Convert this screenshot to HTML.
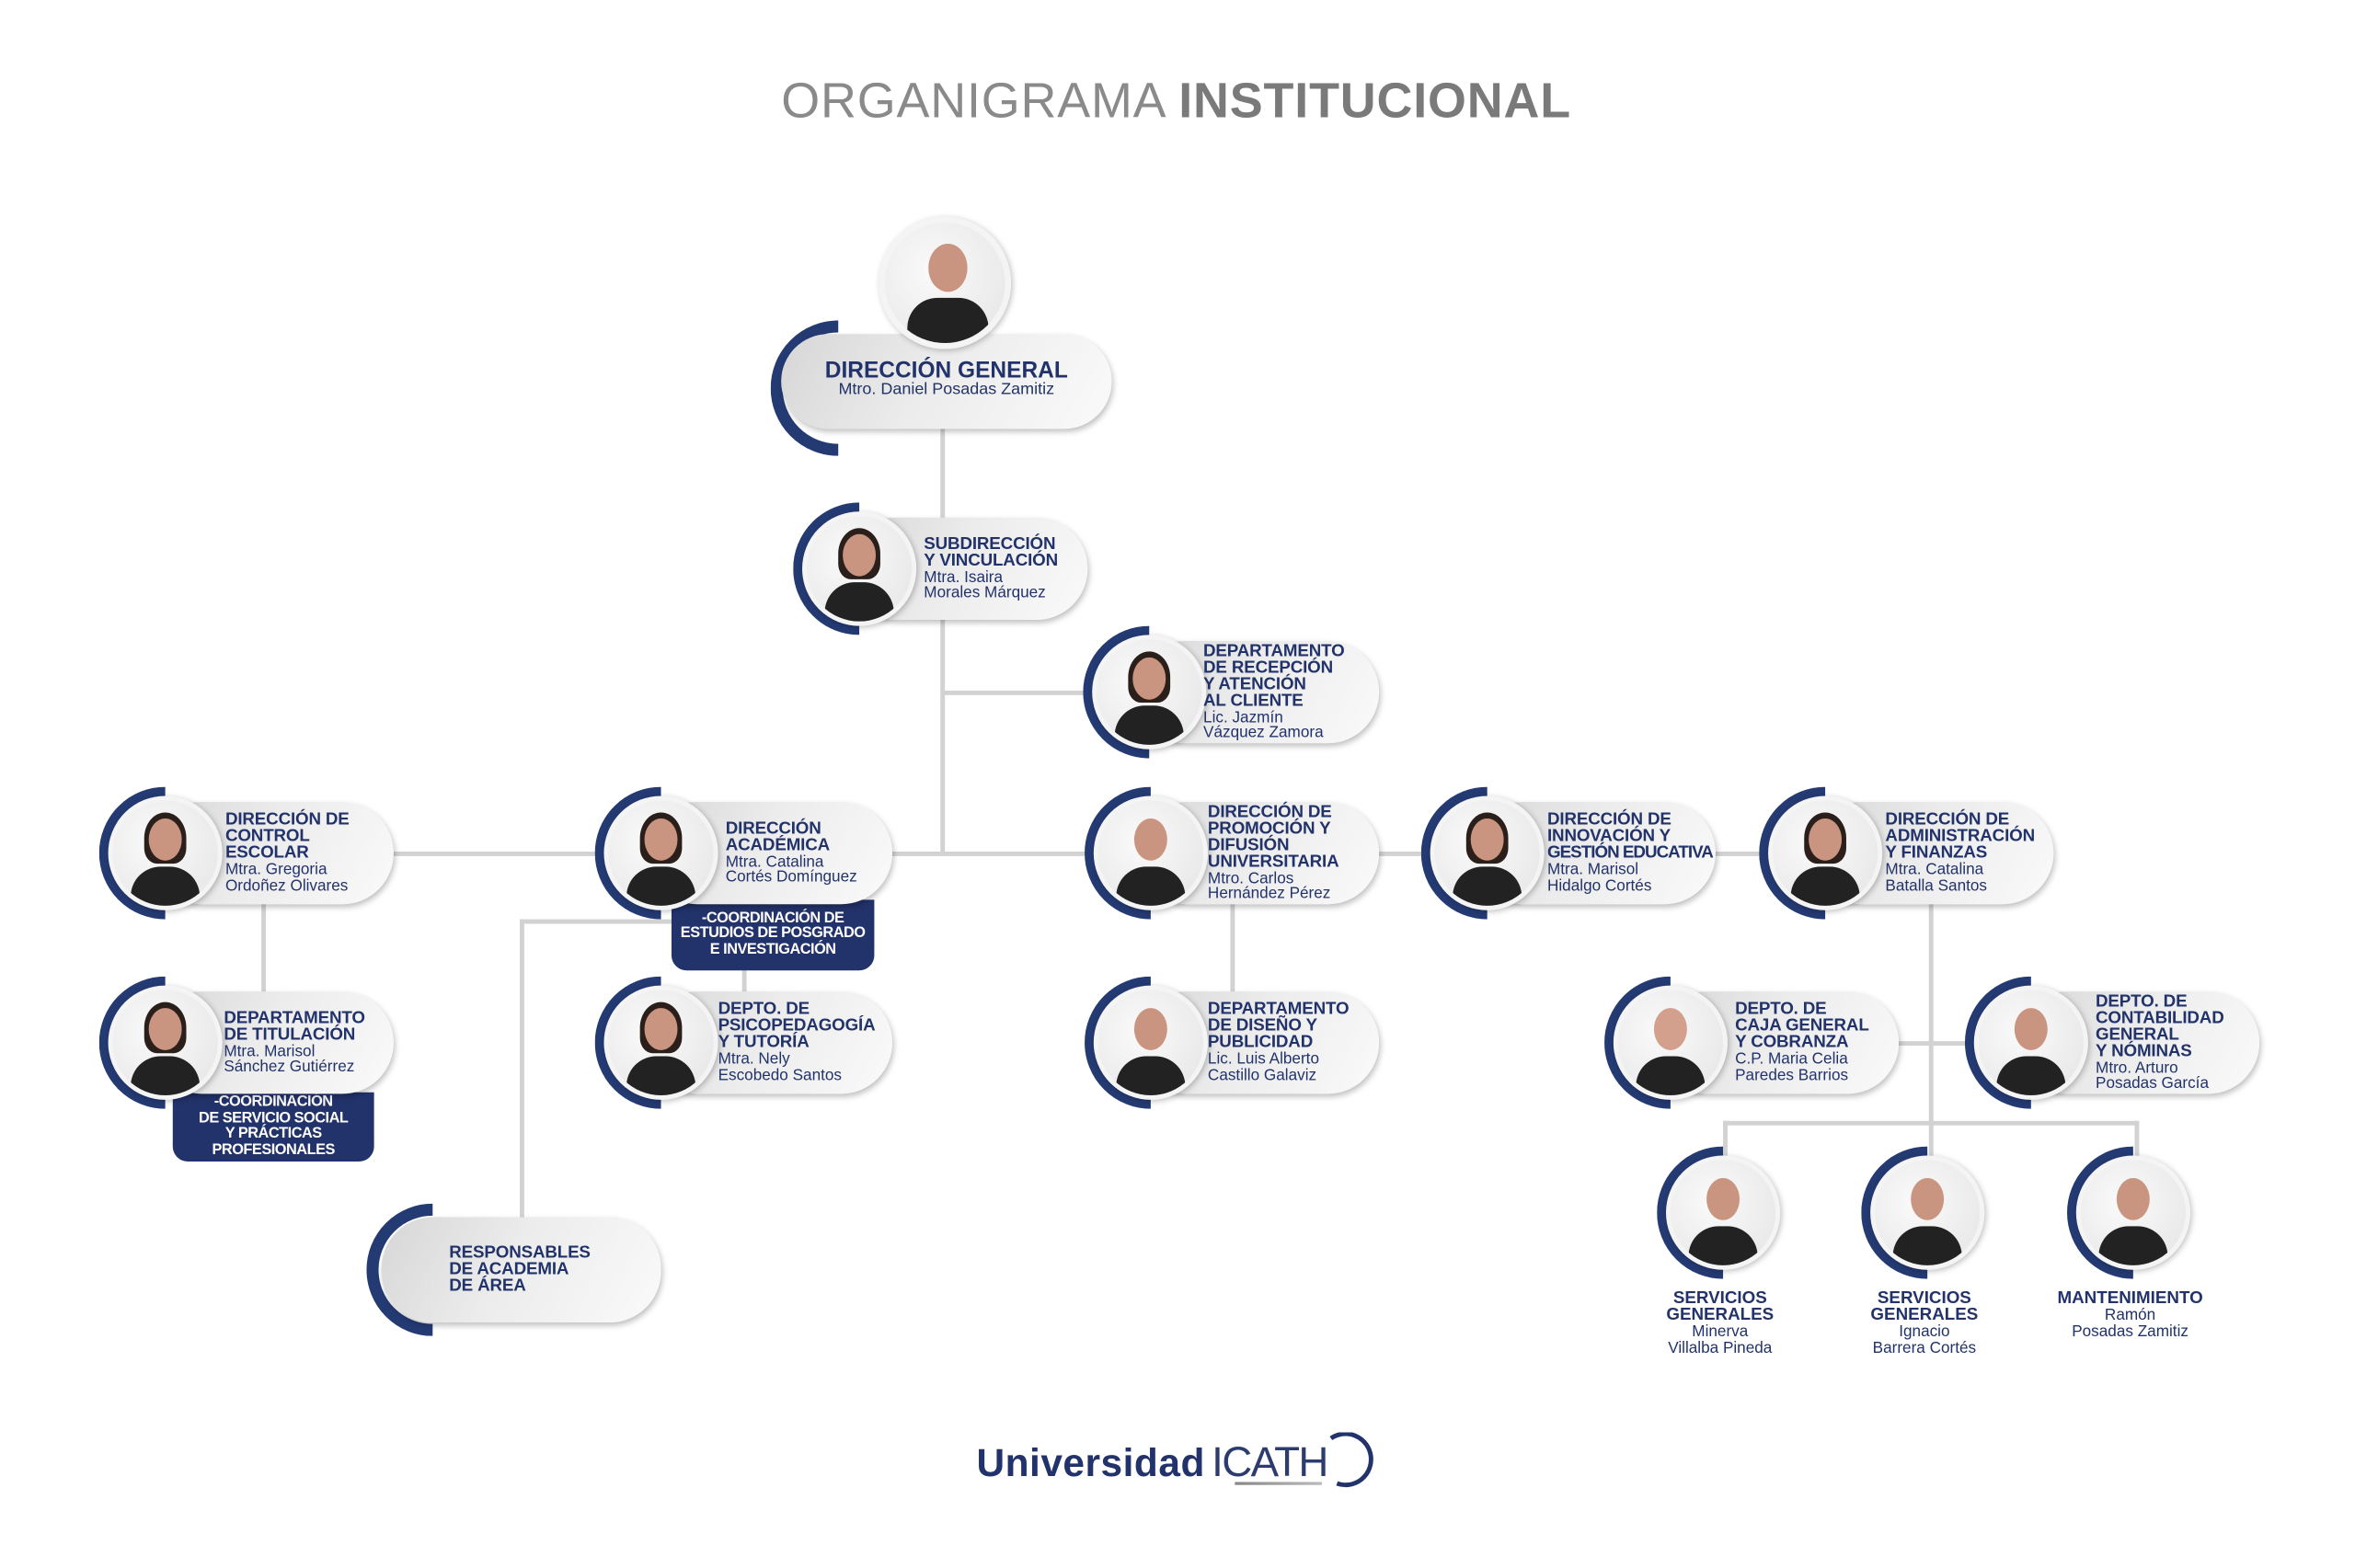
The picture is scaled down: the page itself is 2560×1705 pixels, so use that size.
<!DOCTYPE html>
<html><head><meta charset="utf-8">
<style>
html,body{margin:0;padding:0;background:#fff;}
body{width:2560px;height:1704px;overflow:hidden;position:relative;}
#s{position:absolute;left:0;top:0;width:1570px;height:1042px;transform:scale(1.633,1.636);transform-origin:0 0;font-family:"Liberation Sans",sans-serif;color:#22336b;}
.ln{position:absolute;background:#d2d2d2;}
.n{position:absolute;width:0;height:0;}
.arc{position:absolute;left:-44px;top:-44px;width:72px;height:72px;border:8px solid #243a73;border-radius:50%;clip-path:inset(0 50% 0 0);box-sizing:content-box;}
.pill{position:absolute;left:-10px;top:-34px;height:68px;border-radius:34px;background:linear-gradient(120deg,#d6d6d6 0%,#ececec 45%,#fafafa 100%);box-shadow:1px 2px 4px rgba(0,0,0,.25);}
.ph{position:absolute;left:-38px;top:-38px;width:70px;height:70px;border-radius:50%;border:3px solid #f4f4f4;background:radial-gradient(circle at 40% 40%,#fafafa,#e4e4e4);overflow:hidden;box-shadow:1px 1px 4px rgba(0,0,0,.25);}
.ph .b{position:absolute;left:12px;top:44px;width:46px;height:40px;border-radius:20px 20px 4px 4px;background:#222;}
.ph .h{position:absolute;left:24px;top:12px;width:22px;height:28px;border-radius:50%;background:#c99580;}
.ph .hr{position:absolute;left:21px;top:8px;width:28px;height:34px;border-radius:50% 50% 30% 30%;background:#2a1f1a;}
.t{position:absolute;top:-34px;height:68px;display:flex;flex-direction:column;justify-content:center;white-space:nowrap;}
.t b{font-size:11.5px;line-height:11px;font-weight:bold;letter-spacing:-.1px;}
.t span{font-size:10.5px;line-height:10.5px;}
.box{position:absolute;background:#22336b;color:#fff;font-weight:bold;font-size:10px;line-height:10.5px;text-align:center;border-radius:0 0 10px 10px;display:flex;flex-direction:column;justify-content:center;letter-spacing:-.3px;}
.lab{position:absolute;text-align:center;white-space:nowrap;transform:translateX(-50%);}
.lab b{display:block;font-size:11.5px;line-height:11px;}
.lab span{display:block;font-size:10.5px;line-height:10.5px;}
</style></head><body><div id="s">

<div style="position:absolute;left:0;width:1566px;top:48px;text-align:center;font-size:33px;color:#8a8a8a;letter-spacing:.5px;">ORGANIGRAMA <b style="color:#7a7a7a">INSTITUCIONAL</b></div>

<!-- lines -->
<div class="ln" style="left:626px;top:285px;width:2.5px;height:283px"></div>
<div class="ln" style="left:627px;top:459px;width:140px;height:2.5px"></div>
<div class="ln" style="left:260px;top:566px;width:960px;height:2.5px"></div>
<div class="ln" style="left:174px;top:600px;width:2.5px;height:62px"></div>
<div class="ln" style="left:346px;top:611px;width:102px;height:2.5px"></div>
<div class="ln" style="left:346px;top:611px;width:2.5px;height:198px"></div>
<div class="ln" style="left:494px;top:644px;width:2.5px;height:18px"></div>
<div class="ln" style="left:819px;top:600px;width:2.5px;height:62px"></div>
<div class="ln" style="left:1284px;top:600px;width:2.5px;height:172px"></div>
<div class="ln" style="left:1262px;top:692px;width:50px;height:2.5px"></div>
<div class="ln" style="left:1147px;top:745px;width:276px;height:2.5px"></div>
<div class="ln" style="left:1147px;top:745px;width:2.5px;height:25px"></div>
<div class="ln" style="left:1421px;top:745px;width:2.5px;height:25px"></div>

<!-- Direccion general -->
<div class="n" style="left:628px;top:253px">
 <div class="arc" style="left:-115px;top:-40px;width:74px;height:74px;"></div>
 <div class="pill" style="left:-108px;top:-31px;width:220px;height:63px;"></div>
 <div style="position:absolute;left:-108px;width:220px;top:-14px;text-align:center;white-space:nowrap"><b style="font-size:15px;line-height:15px;display:block">DIRECCIÓN GENERAL</b><span style="font-size:11px;line-height:11px;display:block">Mtro. Daniel Posadas Zamitiz</span></div>
</div>
<div class="n" style="left:628px;top:187px"><div class="ph" style="left:-43px;top:-43px;width:80px;height:80px;border-width:4px"><div class="b" style="left:15px;top:50px;width:54px"></div><div class="h" style="left:29px;top:14px;width:26px;height:32px"></div></div></div>

<!-- Subdireccion -->
<div class="n" style="left:572px;top:378px"><div class="arc"></div><div class="pill" style="width:162px"></div><div class="ph"><div class="hr"></div><div class="b"></div><div class="h"></div></div>
<div class="t" style="left:43px"><b>SUBDIRECCIÓN</b><b>Y VINCULACIÓN</b><span>Mtra. Isaira</span><span>Morales Márquez</span></div></div>

<!-- Recepcion -->
<div class="n" style="left:765px;top:460px"><div class="arc"></div><div class="pill" style="width:163px"></div><div class="ph"><div class="hr"></div><div class="b"></div><div class="h"></div></div>
<div class="t" style="left:36px"><b>DEPARTAMENTO</b><b>DE RECEPCIÓN</b><b>Y ATENCIÓN</b><b>AL CLIENTE</b><span>Lic. Jazmín</span><span>Vázquez Zamora</span></div></div>

<!-- Control escolar -->
<div class="n" style="left:110px;top:567px"><div class="arc"></div><div class="pill" style="width:162px"></div><div class="ph"><div class="hr"></div><div class="b"></div><div class="h"></div></div>
<div class="t" style="left:40px"><b>DIRECCIÓN DE</b><b>CONTROL</b><b>ESCOLAR</b><span>Mtra. Gregoria</span><span>Ordoñez Olivares</span></div></div>

<!-- Academica -->
<div class="box" style="left:447px;top:598px;width:135px;height:47px;"><div>-COORDINACIÓN DE</div><div>ESTUDIOS DE POSGRADO</div><div>E INVESTIGACIÓN</div></div>
<div class="n" style="left:440px;top:567px"><div class="arc"></div><div class="pill" style="width:164px"></div><div class="ph"><div class="hr"></div><div class="b"></div><div class="h"></div></div>
<div class="t" style="left:43px"><b>DIRECCIÓN</b><b>ACADÉMICA</b><span>Mtra. Catalina</span><span>Cortés Domínguez</span></div></div>

<!-- Promocion -->
<div class="n" style="left:766px;top:567px"><div class="arc"></div><div class="pill" style="width:162px"></div><div class="ph"><div class="b"></div><div class="h"></div></div>
<div class="t" style="left:38px"><b>DIRECCIÓN DE</b><b>PROMOCIÓN Y</b><b>DIFUSIÓN</b><b>UNIVERSITARIA</b><span>Mtro. Carlos</span><span>Hernández Pérez</span></div></div>

<!-- Innovacion -->
<div class="n" style="left:990px;top:567px"><div class="arc"></div><div class="pill" style="width:162px"></div><div class="ph"><div class="hr"></div><div class="b"></div><div class="h"></div></div>
<div class="t" style="left:40px"><b>DIRECCIÓN DE</b><b>INNOVACIÓN Y</b><b style="letter-spacing:-.6px">GESTIÓN EDUCATIVA</b><span>Mtra. Marisol</span><span>Hidalgo Cortés</span></div></div>

<!-- Administracion -->
<div class="n" style="left:1215px;top:567px"><div class="arc"></div><div class="pill" style="width:162px"></div><div class="ph"><div class="hr"></div><div class="b"></div><div class="h"></div></div>
<div class="t" style="left:40px"><b>DIRECCIÓN DE</b><b>ADMINISTRACIÓN</b><b>Y FINANZAS</b><span>Mtra. Catalina</span><span>Batalla Santos</span></div></div>

<!-- Titulacion -->
<div class="box" style="left:115px;top:726px;width:134px;height:46px;"><div>-COORDINACIÓN</div><div>DE SERVICIO SOCIAL</div><div>Y PRÁCTICAS</div><div>PROFESIONALES</div></div>
<div class="n" style="left:110px;top:693px"><div class="arc"></div><div class="pill" style="width:162px"></div><div class="ph"><div class="hr"></div><div class="b"></div><div class="h"></div></div>
<div class="t" style="left:39px"><b>DEPARTAMENTO</b><b>DE TITULACIÓN</b><span>Mtra. Marisol</span><span>Sánchez Gutiérrez</span></div></div>

<!-- Psicopedagogia -->
<div class="n" style="left:440px;top:693px"><div class="arc"></div><div class="pill" style="width:164px"></div><div class="ph"><div class="hr"></div><div class="b"></div><div class="h"></div></div>
<div class="t" style="left:38px"><b>DEPTO. DE</b><b>PSICOPEDAGOGÍA</b><b>Y TUTORÍA</b><span>Mtra. Nely</span><span>Escobedo Santos</span></div></div>

<!-- Diseno -->
<div class="n" style="left:766px;top:693px"><div class="arc"></div><div class="pill" style="width:162px"></div><div class="ph"><div class="b"></div><div class="h"></div></div>
<div class="t" style="left:38px"><b>DEPARTAMENTO</b><b>DE DISEÑO Y</b><b>PUBLICIDAD</b><span>Lic. Luis Alberto</span><span>Castillo Galaviz</span></div></div>

<!-- Caja -->
<div class="n" style="left:1112px;top:693px"><div class="arc"></div><div class="pill" style="width:162px"></div><div class="ph"><div class="b"></div><div class="h" style="background:#d2a08c"></div></div>
<div class="t" style="left:43px"><b>DEPTO. DE</b><b>CAJA GENERAL</b><b>Y COBRANZA</b><span>C.P. Maria Celia</span><span>Paredes Barrios</span></div></div>

<!-- Contabilidad -->
<div class="n" style="left:1352px;top:693px"><div class="arc"></div><div class="pill" style="width:162px"></div><div class="ph"><div class="b"></div><div class="h"></div></div>
<div class="t" style="left:43px"><b>DEPTO. DE</b><b>CONTABILIDAD</b><b>GENERAL</b><b>Y NÓMINAS</b><span>Mtro. Arturo</span><span>Posadas García</span></div></div>

<!-- Responsables -->
<div class="n" style="left:296px;top:844px"><div class="arc" style="left:-52px;top:-44px"></div><div class="pill" style="left:-42px;top:-35px;width:186px;height:70px"></div>
<div class="t" style="left:3px"><b>RESPONSABLES</b><b>DE ACADEMIA</b><b>DE ÁREA</b></div></div>

<!-- small nodes -->
<div class="n" style="left:1147px;top:806px"><div class="arc"></div><div class="ph"><div class="b"></div><div class="h"></div></div></div>
<div class="n" style="left:1283px;top:806px"><div class="arc"></div><div class="ph"><div class="b"></div><div class="h"></div></div></div>
<div class="n" style="left:1420px;top:806px"><div class="arc"></div><div class="ph"><div class="b"></div><div class="h"></div></div></div>
<div class="lab" style="left:1145px;top:858px"><b>SERVICIOS</b><b>GENERALES</b><span>Minerva</span><span>Villalba Pineda</span></div>
<div class="lab" style="left:1281px;top:858px"><b>SERVICIOS</b><b>GENERALES</b><span>Ignacio</span><span>Barrera Cortés</span></div>
<div class="lab" style="left:1418px;top:858px"><b>MANTENIMIENTO</b><span>Ramón</span><span>Posadas Zamitiz</span></div>

<!-- logo -->
<div style="position:absolute;left:650px;top:956px;white-space:nowrap;"><b style="font-size:26px;color:#22336b;letter-spacing:.3px">Universidad</b> <span style="font-size:28px;color:#2d3c6e;letter-spacing:-1px;font-weight:normal">ICATH</span></div>
<svg style="position:absolute;left:880px;top:952px" width="40" height="40"><path d="M6 4 A17 17 0 1 1 10 34" fill="none" stroke="#22336b" stroke-width="3"/></svg>
<div style="position:absolute;left:822px;top:985px;width:58px;height:2px;background:linear-gradient(90deg,#888,#bbb)"></div>

</div></body></html>
